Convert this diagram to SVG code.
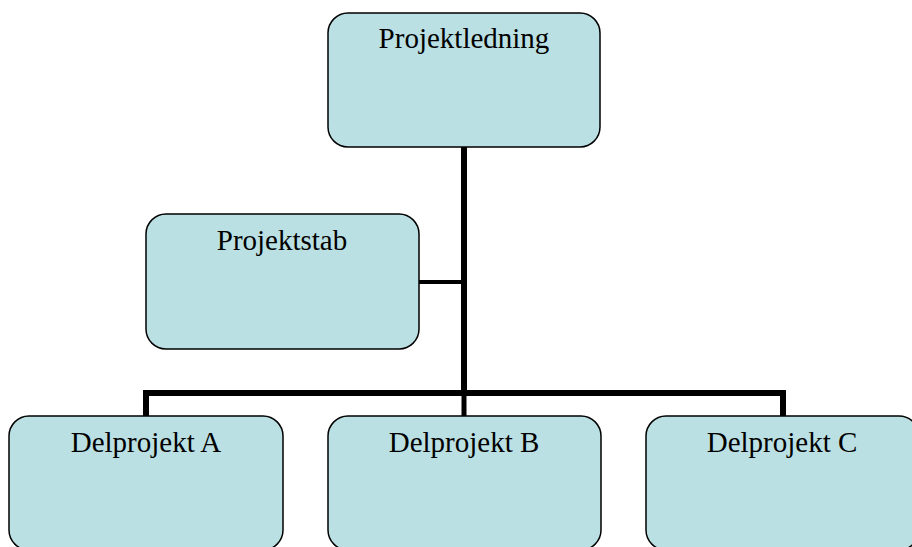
<svg xmlns="http://www.w3.org/2000/svg" width="912" height="547" viewBox="0 0 912 547">
<style>
.box{fill:#BBE0E3;stroke:#000;stroke-width:1.5}
.lbl{font-family:"Liberation Serif","Times New Roman",serif;font-size:29px;fill:#000;text-anchor:middle}
.con{stroke:#000;fill:none;stroke-linecap:butt}
</style>
<rect width="912" height="547" fill="#fff"/>
<g id="connectors">
<line class="con" x1="464" y1="147" x2="464" y2="396" stroke-width="6"/>
<line class="con" x1="419" y1="282" x2="464" y2="282" stroke-width="4"/>
<polyline class="con" points="146,416 146,393 783,393 783,416" stroke-width="6"/>
<line class="con" x1="464" y1="393" x2="464" y2="416" stroke-width="5"/>
</g>
<g id="projektledning">
<rect class="box" x="328" y="13" width="272" height="134" rx="20"/>
<text class="lbl" x="464" y="48">Projektledning</text>
</g>
<g id="projektstab">
<rect class="box" x="146" y="214" width="273" height="135" rx="20"/>
<text class="lbl" x="282" y="250">Projektstab</text>
</g>
<g id="delprojekt-a">
<rect class="box" x="9" y="416" width="274" height="134" rx="20"/>
<text class="lbl" x="146" y="452">Delprojekt A</text>
</g>
<g id="delprojekt-b">
<rect class="box" x="328" y="416" width="273" height="134" rx="20"/>
<text class="lbl" x="464" y="452">Delprojekt B</text>
</g>
<g id="delprojekt-c">
<rect class="box" x="646" y="416" width="273" height="134" rx="20"/>
<text class="lbl" x="782" y="452">Delprojekt C</text>
</g>
</svg>
